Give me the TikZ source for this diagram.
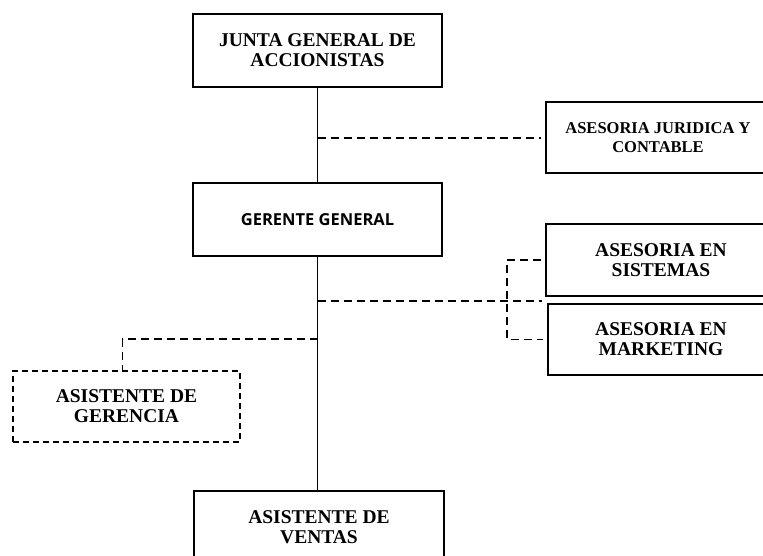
\documentclass[tikz,border=0pt]{standalone}
\usepackage{fontspec}
\setmainfont{Liberation Serif}
\newfontfamily\gerfont{Open Sans}

\begin{document}
\begin{tikzpicture}[x=1pt,y=-1pt,
	box/.style={draw,line width=2pt,minimum width=249pt,minimum height=73pt,align=center,inner sep=0pt,font=\bfseries\fontsize{19.5}{20}\selectfont},
	dashbox/.style={box,line width=1.6pt,dash pattern=on 6pt off 4pt},
	solidline/.style={line width=1.8pt},
	dashline/.style={line width=1.5pt,dash pattern=on 8pt off 5pt}]
	%frame
	\useasboundingbox (0,0) rectangle (763,556);
	\clip (0,0) rectangle (763,556);

	%boxes
	\node[box] (junta) at (317.5,50.5) {JUNTA GENERAL DE\\ACCIONISTAS}; %top
	\node[box,font=\gerfont\bfseries\fontsize{16.5}{18}\selectfont] (gerente) at (317.5,219.5) {GERENTE GENERAL}; %manager
	\node[box,minimum width=224pt,minimum height=71pt,font=\bfseries\fontsize{16.5}{19}\selectfont] (juridica) at (658,138) {ASESORIA JURIDICA Y\\CONTABLE}; %legal
	\node[box,minimum width=230pt,minimum height=72pt] (sistemas) at (661,260) {ASESORIA EN\\SISTEMAS}; %systems
	\node[box,minimum width=226pt,minimum height=71pt] (marketing) at (661,339.5) {ASESORIA EN\\MARKETING}; %marketing
	\node[dashbox,minimum width=227pt,minimum height=71pt] (gerencia) at (126.5,406.5) {ASISTENTE DE\\GERENCIA}; %assistant
	\node[box,minimum width=250pt,minimum height=72pt] (ventas) at (319,527) {ASISTENTE DE\\VENTAS}; %sales

	%trunk
	\draw[solidline] (junta) -- (gerente);
	\draw[solidline] (gerente.south) -- (gerente.south |- ventas.north);

	%advisors
	\draw[dashline,shorten >=4pt] (junta.south |- juridica.west) -- (juridica.west); %legal
	\coordinate (stap) at (317.5,301);
	\coordinate (hub) at (542,301);
	\coordinate (brk) at (507,301);
	\draw[dashline] (stap) -- (hub); %systems and marketing
	\draw[dashline,shorten <=4pt,shorten >=4pt] (sistemas.west) -| (brk) |- (marketing.west); %bracket

	%assistant
	\coordinate (gtap) at (317.5,339);
	\draw[dashline] (gtap) -| ([xshift=-4pt]gerencia.north);
\end{tikzpicture}
\end{document}
